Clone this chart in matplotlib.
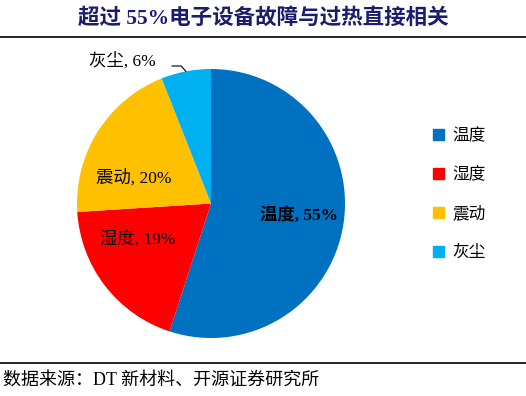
import matplotlib.pyplot as plt
import numpy as np

# chart data
labels = ['温度', '湿度', '震动', '灰尘']
shares = [55, 19, 20, 6]
colors = ['#0070C0', '#FF0000', '#FFC000', '#00B0F0']

title = '超过 55%电子设备故障与过热直接相关'
source = '数据来源：DT 新材料、开源证券研究所'

fonts = ['Liberation Serif', 'Noto Sans CJK SC']
plt.rcParams['font.family'] = fonts

fig = plt.figure(figsize=(5.26, 3.96), dpi=100)
W, H = 526, 396

# pie axes placed in pixel terms (left, top, width, height)
ax = fig.add_axes([77 / W, 1 - 338 / H, 268 / W, 269 / H])
wedges, _ = ax.pie(shares, colors=colors, startangle=90, counterclock=False,
                   radius=1, wedgeprops=dict(linewidth=0))
ax.set_xlim(-1, 1)
ax.set_ylim(-1, 1)
ax.set_aspect('auto')

# slice labels
ax.text(0.66, -0.09, f'{labels[0]}, {shares[0]}%', ha='center', va='center',
        fontsize=12.5, fontweight='bold', color='black')
ax.text(-0.55, -0.27, f'{labels[1]}, {shares[1]}%', ha='center', va='center',
        fontsize=12.5, color='black')
ax.text(-0.58, 0.19, f'{labels[2]}, {shares[2]}%', ha='center', va='center',
        fontsize=12.5, color='black')

# small slice label with leader line
w = wedges[3]
ang = np.deg2rad((w.theta1 + w.theta2) / 2)
ex, ey = np.cos(ang), np.sin(ang)
ax.text(-0.665, 1.06, f'{labels[3]}, {shares[3]}%', ha='center', va='center',
        fontsize=12.5, color='black', clip_on=False)
ax.plot([-0.29, ex - 0.035, ex], [ey + 0.04, ey + 0.04, ey], color='black',
        lw=0.8, clip_on=False)

# legend
handles = [plt.Rectangle((0, 0), 1, 1, color=c) for c in colors]
fig.legend(handles, labels, loc='upper left', bbox_to_anchor=(418 / W, 1 - 113 / H),
           frameon=False, fontsize=12, handlelength=0.65, handleheight=0.65,
           handletextpad=0.5, labelspacing=1.38)

# title and rules
fig.text(0.5, 1 - 18 / H, title, ha='center', va='center', fontsize=15.5,
         fontweight='bold', color='#1C1C6E')
fig.add_artist(plt.Line2D([0, 1], [1 - 37 / H, 1 - 37 / H], color='black', lw=1.2))
fig.add_artist(plt.Line2D([0, 1], [1 - 363 / H, 1 - 363 / H], color='black', lw=1.2))
fig.text(3 / W, 1 - 380 / H, source, ha='left', va='center', fontsize=13, color='black')

fig.savefig('out.png', dpi=100)
